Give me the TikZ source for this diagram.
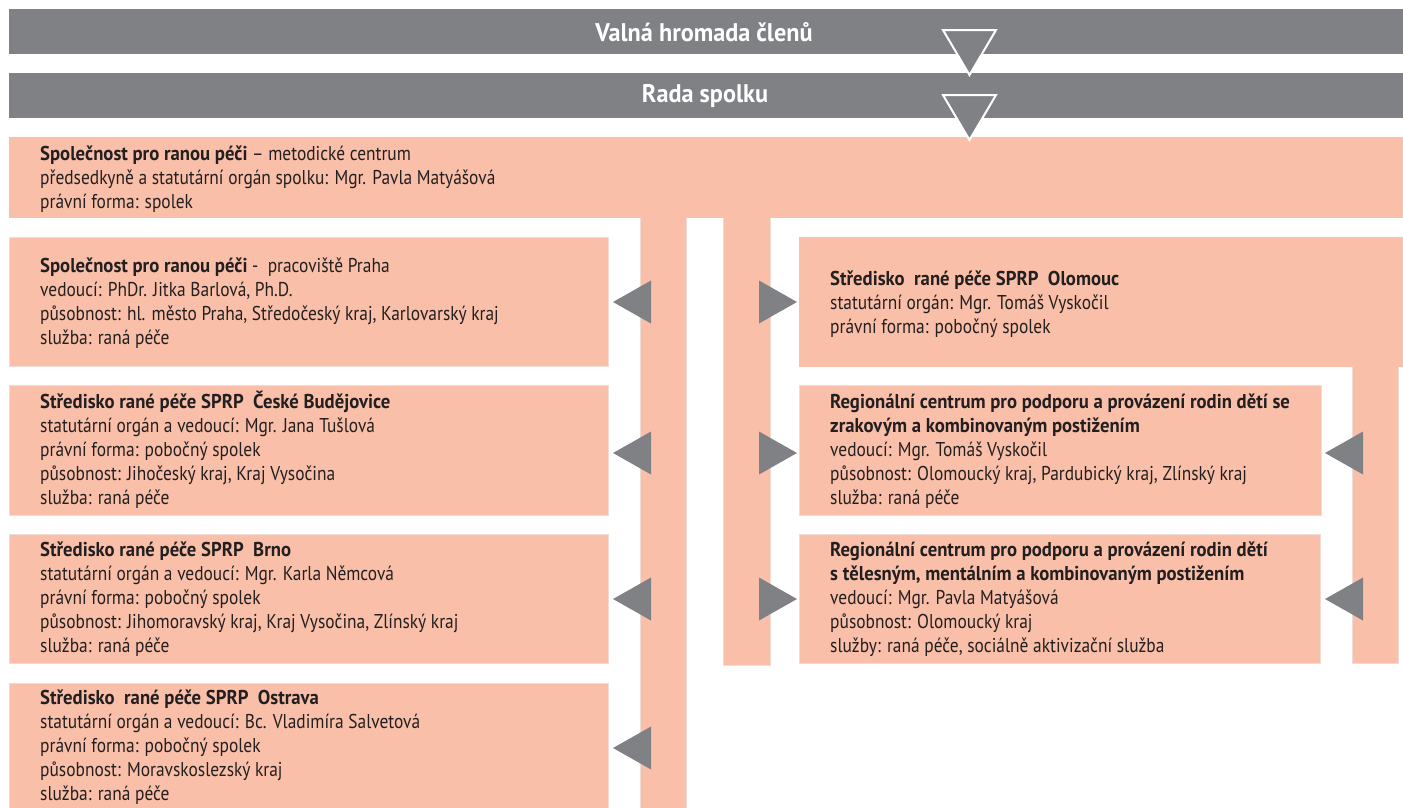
\documentclass[tikz,border=0pt]{standalone}
\usepackage{fontspec}
\setmainfont{PT Sans}[FakeStretch=0.87, BoldFeatures={FakeStretch=0.935}]
\newfontfamily\barfont{PT Sans}[FakeStretch=0.95]
\definecolor{bargray}{HTML}{808184}
\definecolor{salm}{HTML}{F9BFA8}
\definecolor{txt}{HTML}{231F20}
\definecolor{edge}{HTML}{EFDDD5}
\begin{document}
\begin{tikzpicture}[x=1pt,y=-1pt,
  box/.style={fill=salm, draw=edge, line width=0.8pt, anchor=north west, inner sep=0pt, outer sep=0pt},
  plainbox/.style={fill=salm, anchor=north west, inner sep=0pt, outer sep=0pt},
  bar/.style={fill=bargray, anchor=north west, inner sep=0pt, outer sep=0pt},
  bartext/.style={text=white, font=\barfont\fontsize{25.5}{28}\selectfont\bfseries, inner sep=0pt},
  bodytext/.style={text=txt, font=\fontsize{20}{24}\selectfont, align=left, anchor=north west, inner sep=0pt},
  tri/.style={fill=bargray},
  downtri/.style={fill=bargray, draw=white, line width=2pt}
]
\useasboundingbox (0,0) rectangle (1403,807);
\clip (0,0) rectangle (1403,807);

% top bars
\node[bar, minimum width=1400, minimum height=45] (vh) at (9,9) {};
\node[bar, minimum width=1400, minimum height=45] (rs) at (9,73) {};
\node[bartext] (vht) at (704,32) {Valná hromada členů};
\node[bartext] (rst) at (705,96) {Rada spolku};

% main box
\node[plainbox, minimum width=1400, minimum height=81] (main) at (9,137) {};

% vertical bars
\fill[salm] (640,210) rectangle (686,812);
\draw[edge, line width=0.8pt] (640,218) -- (640,812) (686,218) -- (686,812);
\fill[salm] (723,210) rectangle (770,665);
\draw[edge, line width=0.8pt] (723,218) -- (723,665) -- (770,665) -- (770,218);
\fill[salm] (1352,360) rectangle (1398,663);
\draw[edge, line width=0.8pt] (1352,367) -- (1352,663) -- (1398,663) -- (1398,367);

% left boxes
\node[box, minimum width=599, minimum height=129] (praha) at (9,237) {};
\node[box, minimum width=599, minimum height=130] (cb) at (9,385) {};
\node[box, minimum width=599, minimum height=129] (brno) at (9,534) {};
\node[box, minimum width=599, minimum height=140] (ostrava) at (9,683) {};

% right boxes
\node[plainbox, minimum width=610, minimum height=130] (olomouc) at (799,237) {};
\node[box, minimum width=522, minimum height=130] (reg1) at (799,385) {};
\node[box, minimum width=521, minimum height=129] (reg2) at (799,534) {};

% down triangles on the grey bars
\draw[downtri] (943,30) -- (996,30) -- (969.5,75) -- cycle;
\draw[downtri] (943,95) -- (996,95) -- (969.5,140) -- cycle;

% left-pointing triangles
\foreach \y in {302,453,599,748} {
  \fill[tri] (613,\y) -- (651,\y-21.5) -- (651,\y+21.5) -- cycle;
}
% right-pointing triangles
\foreach \y in {302,453,599} {
  \fill[tri] (797,\y) -- (759,\y-21.5) -- (759,\y+21.5) -- cycle;
}
\foreach \y in {453,599} {
  \fill[tri] (1325,\y) -- (1363,\y-21.5) -- (1363,\y+21.5) -- cycle;
}

% texts
\node[bodytext] (maint) at (40,143.2) {\strut\textbf{Společnost pro ranou péči} – metodické centrum\\předsedkyně a statutární orgán spolku: Mgr. Pavla Matyášová\\právní forma: spolek};
\node[bodytext] (prahat) at (40,255.2) {\strut\textbf{Společnost pro ranou péči} -\ \ pracoviště Praha\\vedoucí: PhDr. Jitka Barlová, Ph.D.\\působnost: hl. město Praha, Středočeský kraj, Karlovarský kraj\\služba: raná péče};
\node[bodytext] (cbt) at (40,391.2) {\strut\textbf{Středisko rané péče SPRP\ \ České Budějovice}\\statutární orgán a vedoucí: Mgr. Jana Tušlová\\právní forma: pobočný spolek\\působnost: Jihočeský kraj, Kraj Vysočina\\služba: raná péče};
\node[bodytext] (brnot) at (40,539.2) {\strut\textbf{Středisko rané péče SPRP\ \ Brno}\\statutární orgán a vedoucí: Mgr. Karla Němcová\\právní forma: pobočný spolek\\působnost: Jihomoravský kraj, Kraj Vysočina, Zlínský kraj\\služba: raná péče};
\node[bodytext] (ostravat) at (40,687.2) {\strut\textbf{Středisko\ \ rané péče SPRP\ \ Ostrava}\\statutární orgán a vedoucí: Bc. Vladimíra Salvetová\\právní forma: pobočný spolek\\působnost: Moravskoslezský kraj\\služba: raná péče};
\node[bodytext] (olomouct) at (830,268.2) {\strut\textbf{Středisko\ \ rané péče SPRP\ \ Olomouc}\\statutární orgán: Mgr. Tomáš Vyskočil\\právní forma: pobočný spolek};
\node[bodytext] (reg1t) at (830,391.2) {\strut\textbf{Regionální centrum pro podporu a provázení rodin dětí se}\\\textbf{zrakovým a kombinovaným postižením}\\vedoucí: Mgr. Tomáš Vyskočil\\působnost: Olomoucký kraj, Pardubický kraj, Zlínský kraj\\služba: raná péče};
\node[bodytext] (reg2t) at (830,539.2) {\strut\textbf{Regionální centrum pro podporu a provázení rodin dětí}\\\textbf{s tělesným, mentálním a kombinovaným postižením}\\vedoucí: Mgr. Pavla Matyášová\\působnost: Olomoucký kraj\\služby: raná péče, sociálně aktivizační služba};
\end{tikzpicture}
\end{document}
